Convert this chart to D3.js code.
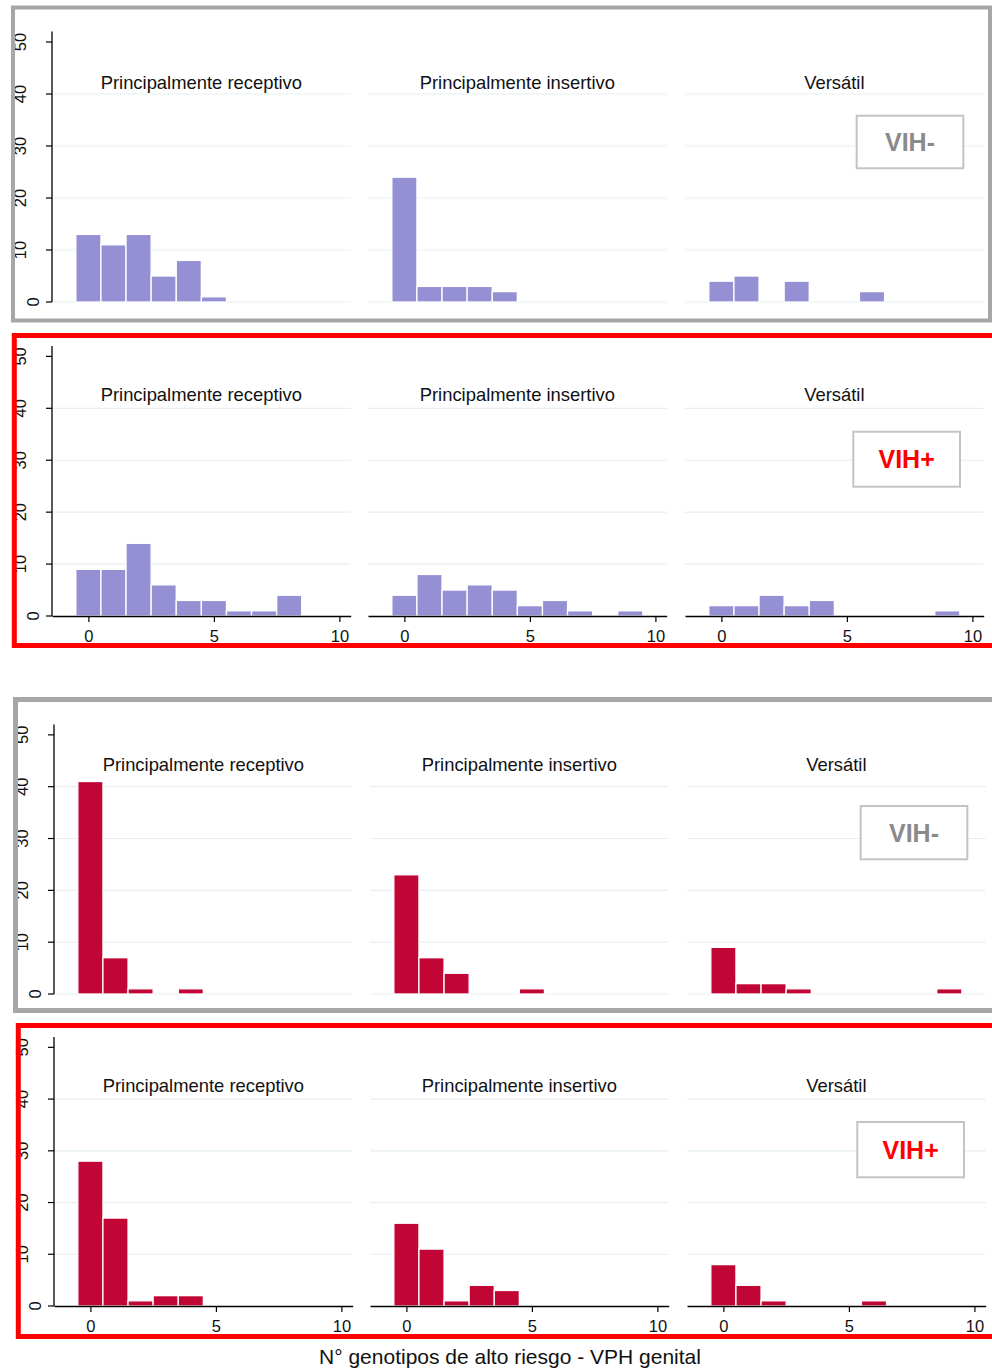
<!DOCTYPE html>
<html>
<head>
<meta charset="utf-8">
<script src="https://cdn.jsdelivr.net/npm/d3@7"></script>
<style>
  html, body { margin: 0; padding: 0; background: #ffffff; }
  svg { display: block; }
  text { font-family: "Liberation Sans", Arial, sans-serif; }
</style>
</head>
<body>
<script>
// Facet titles (one column per sexual role)
const categories = ["Principalmente receptivo", "Principalmente insertivo", "Versátil"];
const xTicks = [0, 5, 10];
const yTicks = [0, 10, 20, 30, 40, 50];
const xTitle = "N° genotipos de alto riesgo - VPH genital";

// Counts of participants by number of genotypes (index = 0, 1, 2, ...)
// Upper block
const upperNeg = [
  [13, 11, 13, 5, 8, 1],
  [24, 3, 3, 3, 2],
  [4, 5, 0, 4, 0, 0, 2]
];
const upperPos = [
  [9, 9, 14, 6, 3, 3, 1, 1, 4],
  [4, 8, 5, 6, 5, 2, 3, 1, 0, 1],
  [2, 2, 4, 2, 3, 0, 0, 0, 0, 1]
];
// Lower block (high-risk genotypes)
const lowerNeg = [
  [41, 7, 1, 0, 1],
  [23, 7, 4, 0, 0, 1],
  [9, 2, 2, 1, 0, 0, 0, 0, 0, 1]
];
const lowerPos = [
  [28, 17, 1, 2, 2],
  [16, 11, 1, 4, 3],
  [8, 4, 1, 0, 0, 0, 1]
];
const groupLabels = ["VIH-", "VIH+"];

// Layout of the four framed rows
const W = 992, H = 1370;
const lavender = "#9590d4", cranberry = "#c10534";
const frameGray = "#a7a7a7", frameRed = "#ff0000";

const rows = [
  { data: upperNeg, fill: lavender, label: 0, top: 31.6, bottom: 302, dx: 0, subY: 82,
    frame: { x: 13, y: 7.5, w: 977, h: 313, color: frameGray, sw: 4 },
    box: { x: 856.7, y: 115.7, w: 106.6, h: 52.6 }, xAxis: false },
  { data: upperPos, fill: lavender, label: 1, top: 346, bottom: 616, dx: 0, subY: 394.5,
    frame: { x: 14.3, y: 335.5, w: 1000, h: 310, color: frameRed, sw: 5 },
    box: { x: 853.3, y: 431.7, w: 106.7, h: 55 }, xAxis: true },
  { data: lowerNeg, fill: cranberry, label: 0, top: 724.5, bottom: 994, dx: 2, subY: 764,
    frame: { x: 15.5, y: 699.5, w: 1000, h: 311, color: frameGray, sw: 5 },
    box: { x: 860.7, y: 806, w: 106.6, h: 53.3 }, xAxis: false },
  { data: lowerPos, fill: cranberry, label: 1, top: 1037, bottom: 1306, dx: 2, subY: 1085.5,
    frame: { x: 18.3, y: 1025.5, w: 1000, h: 311, color: frameRed, sw: 5 },
    box: { x: 857.3, y: 1122, w: 106.7, h: 55.3 }, xAxis: true }
];

// Horizontal extent of the three facets
const facetX = [[52, 350.7], [368, 666.7], [685, 983.7]];
const axisX = 52;

const svg = d3.select("body").append("svg")
  .attr("width", W).attr("height", H)
  .attr("viewBox", `0 0 ${W} ${H}`);

svg.append("rect").attr("width", W).attr("height", H).attr("fill", "#ffffff");

rows.forEach(row => {
  const g = svg.append("g");
  const y = d3.scaleLinear().domain([0, 52]).range([row.bottom, row.top]);

  row.data.forEach((counts, ci) => {
    const [x0, x1] = facetX[ci];
    const x = d3.scaleLinear().domain([-1.45, 10.45]).range([x0 + row.dx, x1 + row.dx]);
    const fg = g.append("g");

    // light horizontal grid
    fg.selectAll("line.grid")
      .data(yTicks.filter(t => t < 50 && (t > 0 || !row.xAxis)))
      .join("line")
      .attr("x1", x.range()[0]).attr("x2", x.range()[1])
      .attr("y1", d => y(d)).attr("y2", d => y(d))
      .attr("stroke", "#e6eff1").attr("stroke-width", 1.2);

    // facet title
    fg.append("text")
      .attr("x", (x.range()[0] + x.range()[1]) / 2)
      .attr("y", row.subY)
      .attr("dy", "0.36em")
      .attr("text-anchor", "middle")
      .attr("font-size", 18.4)
      .attr("fill", "#111")
      .text(categories[ci]);

    // histogram bars, unit-width bins centred on integers
    fg.selectAll("rect.bar")
      .data(counts.map((v, i) => ({ i, v })).filter(d => d.v > 0))
      .join("rect")
      .attr("x", d => x(d.i - 0.5))
      .attr("width", d => x(d.i + 0.5) - x(d.i - 0.5))
      .attr("y", d => y(d.v))
      .attr("height", d => y(0) - y(d.v))
      .attr("fill", row.fill)
      .attr("stroke", "#ffffff")
      .attr("stroke-width", 1.3);

    // x axis on the lower row of each block
    if (row.xAxis) {
      const ax = fg.append("g")
        .attr("transform", `translate(0,${y(0)})`)
        .call(d3.axisBottom(x).tickValues(xTicks).tickSize(6).tickPadding(8).tickSizeOuter(0));
      ax.select(".domain").attr("stroke", "#000").attr("stroke-width", 1.3);
      ax.selectAll(".tick line").attr("stroke", "#000").attr("stroke-width", 1.2);
      ax.selectAll(".tick text")
        .attr("font-size", 16.5)
        .attr("fill", "#111")
        .attr("font-family", "Liberation Sans, Arial, sans-serif");
    }
  });

  // y axis on the first facet
  const ax0 = axisX + row.dx;
  g.append("line")
    .attr("x1", ax0).attr("x2", ax0)
    .attr("y1", y(52)).attr("y2", y(0))
    .attr("stroke", "#000").attr("stroke-width", 1.3);
  g.selectAll("line.ytick")
    .data(yTicks)
    .join("line")
    .attr("x1", ax0 - 6).attr("x2", ax0)
    .attr("y1", d => y(d)).attr("y2", d => y(d))
    .attr("stroke", "#000").attr("stroke-width", 1.2);
  g.selectAll("text.ylab")
    .data(yTicks)
    .join("text")
    .attr("transform", d => {
      const cx = (String(d).length === 1 ? 33.5 : 20.5) + row.dx;
      return `translate(${cx},${y(d)}) rotate(-90)`;
    })
    .attr("text-anchor", "middle")
    .attr("dy", "0.36em")
    .attr("font-size", 16.5)
    .attr("fill", "#111")
    .text(d => d);

  // group badge
  const b = row.box;
  g.append("rect")
    .attr("x", b.x).attr("y", b.y).attr("width", b.w).attr("height", b.h)
    .attr("fill", "#ffffff").attr("stroke", "#c4c4c4").attr("stroke-width", 2);
  g.append("text")
    .attr("x", b.x + b.w / 2).attr("y", b.y + b.h / 2)
    .attr("dy", "0.36em")
    .attr("text-anchor", "middle")
    .attr("font-size", 25)
    .attr("font-weight", "bold")
    .attr("fill", row.label === 0 ? "#8a8a8a" : "#ff0000")
    .text(groupLabels[row.label]);

  // frame around the row
  const f = row.frame;
  g.append("rect")
    .attr("x", f.x).attr("y", f.y).attr("width", f.w).attr("height", f.h)
    .attr("fill", "none").attr("stroke", f.color).attr("stroke-width", f.sw);
});

// shared x-axis title
svg.append("text")
  .attr("x", 510).attr("y", 1356)
  .attr("dy", "0.36em")
  .attr("text-anchor", "middle")
  .attr("font-size", 21)
  .attr("fill", "#111")
  .text(xTitle);
</script>
</body>
</html>
